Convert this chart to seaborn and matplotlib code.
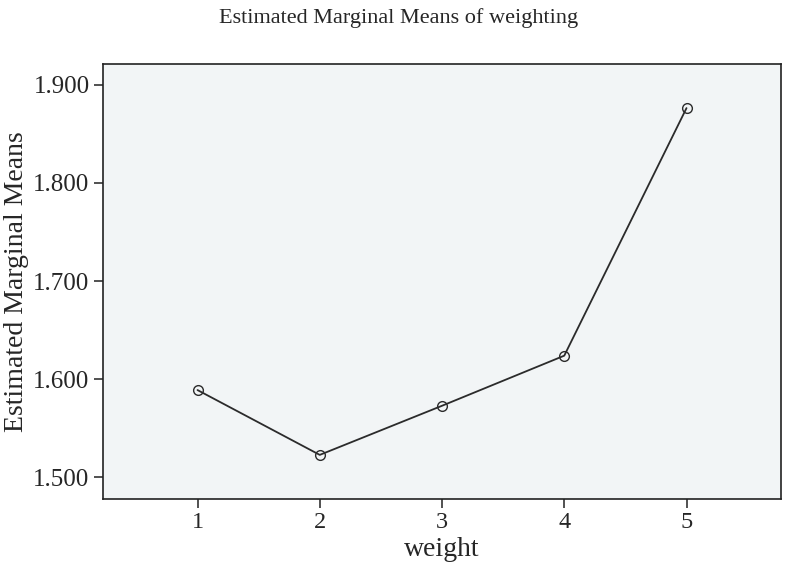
import matplotlib
matplotlib.use("Agg")
import matplotlib.pyplot as plt
import seaborn as sns
import pandas as pd

weight = [1, 2, 3, 4, 5]
means = [1.589, 1.523, 1.573, 1.624, 1.876]
yticks = [1.5, 1.6, 1.7, 1.8, 1.9]
ytick_labels = ["1.500", "1.600", "1.700", "1.800", "1.900"]

sns.set_style("ticks")
plt.rcParams['font.family'] = ['Liberation Serif', 'DejaVu Serif']

df = pd.DataFrame({"weight": weight, "mean": means})

fig = plt.figure(figsize=(7.98, 5.74), dpi=100)
left, right, bottom, top = 102.7 / 798, 781 / 798, 1 - 499 / 574, 1 - 64 / 574
ax = fig.add_axes([left, bottom, right - left, top - bottom])
ax.set_facecolor("#f2f5f6")

sns.lineplot(data=df, x="weight", y="mean", ax=ax, color="#2b2b2b", linewidth=1.3,
             marker="o", markersize=7, markerfacecolor="none",
             markeredgecolor="#2b2b2b", markeredgewidth=1.0)

ax.set_xlim(0.2245, 5.773)
ax.set_ylim(1.4781, 1.9209)
ax.set_xticks(weight)
ax.set_xticklabels([str(w) for w in weight], fontsize=17.5)
ax.set_yticks(yticks)
ax.set_yticklabels(ytick_labels, fontsize=18)
ax.tick_params(axis="both", direction="out", length=6.5, width=1.2, color="#333333", pad=3)
for s in ax.spines.values():
    s.set_color("#222222")
    s.set_linewidth(1.2)

ax.set_xlabel("weight", fontsize=20, labelpad=3)
ax.set_ylabel("Estimated Marginal Means", fontsize=20, labelpad=3)
fig.text(0.5, 0.968, "Estimated Marginal Means of weighting", ha="center", va="center", fontsize=16)

fig.savefig("out.png", dpi=100)
